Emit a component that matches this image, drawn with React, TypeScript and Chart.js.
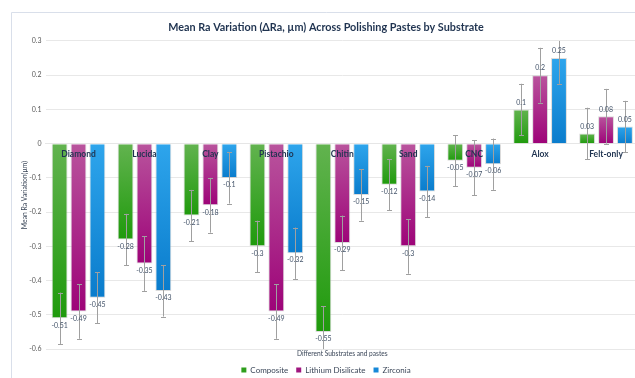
import React, { useEffect, useRef } from "react";
import { Chart, registerables } from "chart.js";

Chart.register(...registerables);

// Polishing pastes (x categories)
const categories = ["Diamond", "Lucida", "Clay", "Pistachio", "Chitin", "Sand", "CNC", "Alox", "Felt-only"];

// Mean ΔRa (µm) per substrate
const composite = [-0.51, -0.28, -0.21, -0.3, -0.55, -0.12, -0.05, 0.1, 0.03];
const lithiumDisilicate = [-0.49, -0.35, -0.18, -0.49, -0.29, -0.3, -0.07, 0.2, 0.08];
const zirconia = [-0.45, -0.43, -0.1, -0.32, -0.15, -0.14, -0.06, 0.25, 0.05];

// Error bar half-widths (µm)
const compositeErr = [0.075, 0.075, 0.075, 0.075, 0.075, 0.075, 0.075, 0.075, 0.075];
const lithiumDisilicateErr = [0.08, 0.08, 0.08, 0.08, 0.08, 0.08, 0.08, 0.08, 0.08];
const zirconiaErr = [0.075, 0.075, 0.075, 0.075, 0.075, 0.075, 0.075, 0.075, 0.075];

const seriesNames = ["Composite", "Lithium Disilicate", "Zirconia"];
const yMin = -0.6;
const yMax = 0.3;
const yStep = 0.1;

const FONT = "Lato, 'Open Sans', sans-serif";

const palette = [
  { light: "#62b34f", dark: "#1f9a0c", solid: "#2e9e1c" },
  { light: "#b9549d", dark: "#9d0378", solid: "#a0167f" },
  { light: "#2ea5ec", dark: "#0a7ccc", solid: "#1788d8" },
];

function barGradient(light: string, dark: string) {
  return (ctx: any) => {
    const chart = ctx.chart;
    const y = chart.scales && chart.scales.y;
    if (ctx.type !== "data" || !y || !chart.chartArea) return dark;
    const v = ctx.raw as number;
    const p0 = y.getPixelForValue(0);
    const p1 = y.getPixelForValue(v);
    const top = Math.min(p0, p1);
    const bot = Math.max(p0, p1);
    if (bot - top < 1) return dark;
    const g = chart.ctx.createLinearGradient(0, top, 0, bot);
    g.addColorStop(0, light);
    g.addColorStop(1, dark);
    return g;
  };
}

const errors = [compositeErr, lithiumDisilicateErr, zirconiaErr];

const framePlugin = {
  id: "frame",
  beforeDraw(chart: any) {
    const { ctx, width, height } = chart;
    ctx.save();
    ctx.fillStyle = "#ffffff";
    ctx.fillRect(0, 0, width, height);
    ctx.strokeStyle = "#d9dfea";
    ctx.lineWidth = 1;
    ctx.beginPath();
    ctx.moveTo(11.5, height);
    ctx.lineTo(11.5, 12.5);
    ctx.lineTo(width, 12.5);
    ctx.stroke();
    ctx.restore();
  },
};

const errorBarPlugin = {
  id: "errorBars",
  afterDatasetsDraw(chart: any) {
    const { ctx, chartArea } = chart;
    const yScale = chart.scales.y;
    ctx.save();
    ctx.strokeStyle = "#a0a0a0";
    ctx.lineWidth = 1;
    chart.data.datasets.forEach((ds: any, i: number) => {
      const meta = chart.getDatasetMeta(i);
      meta.data.forEach((bar: any, j: number) => {
        const v = ds.data[j] as number;
        const e = errors[i][j];
        const x = Math.round(bar.x) + 0.5;
        const hiRaw = yScale.getPixelForValue(v + e);
        const loRaw = yScale.getPixelForValue(v - e);
        const hi = Math.max(hiRaw, chartArea.top);
        const lo = Math.min(loRaw, chartArea.bottom);
        ctx.beginPath();
        ctx.moveTo(x, hi);
        ctx.lineTo(x, lo);
        if (hiRaw >= chartArea.top) {
          ctx.moveTo(x - 2.5, Math.round(hi) + 0.5);
          ctx.lineTo(x + 2.5, Math.round(hi) + 0.5);
        }
        if (loRaw <= chartArea.bottom) {
          ctx.moveTo(x - 2.5, Math.round(lo) + 0.5);
          ctx.lineTo(x + 2.5, Math.round(lo) + 0.5);
        }
        ctx.stroke();
      });
    });
    // value labels
    ctx.fillStyle = "#44546a";
    ctx.font = `7px ${FONT}`;
    ctx.textAlign = "center";
    ctx.textBaseline = "middle";
    chart.data.datasets.forEach((ds: any, i: number) => {
      const meta = chart.getDatasetMeta(i);
      meta.data.forEach((bar: any, j: number) => {
        const v = ds.data[j] as number;
        const y = v < 0 ? bar.y + 7 : bar.y - 7;
        ctx.fillText(String(v), bar.x, y);
      });
    });
    ctx.restore();
  },
};

export default function App() {
  const canvasRef = useRef<HTMLCanvasElement | null>(null);

  useEffect(() => {
    if (!canvasRef.current) return;
    const values = [composite, lithiumDisilicate, zirconia];
    const chart = new Chart(canvasRef.current, {
      type: "bar",
      data: {
        labels: categories,
        datasets: values.map((d, i) => ({
          label: seriesNames[i],
          data: d,
          xAxisID: "x",
          yAxisID: "y",
          backgroundColor: barGradient(palette[i].light, palette[i].dark),
          borderColor: "rgba(190,190,190,0.55)",
          borderWidth: 1,
          categoryPercentage: 0.86,
          barPercentage: 0.84,
        })),
      },
      options: {
        animation: false,
        responsive: false,
        devicePixelRatio: 1,
        layout: { padding: { top: 12, left: 13, right: 3, bottom: 0 } },
        plugins: {
          tooltip: { enabled: false },
          title: {
            display: true,
            text: "Mean Ra Variation (ΔRa, µm) Across Polishing Pastes by Substrate",
            color: "#1f3350",
            font: { family: FONT, size: 10.8, weight: "bold" },
            padding: { top: 9, bottom: 7 },
          },
          legend: {
            position: "bottom",
            labels: {
              boxWidth: 5,
              boxHeight: 5,
              padding: 8,
              color: "#3a4658",
              font: { family: FONT, size: 8 },
              generateLabels: (c: any) =>
                seriesNames.map((name, i) => ({
                  text: name,
                  fillStyle: palette[i].solid,
                  strokeStyle: palette[i].solid,
                  lineWidth: 0,
                  hidden: !c.isDatasetVisible(i),
                  datasetIndex: i,
                  fontColor: "#3a4658",
                })),
            },
          },
        },
        scales: {
          x: {
            type: "category",
            position: { y: 0 } as any,
            grid: { display: false, drawTicks: false },
            border: { display: true, color: "#e6e6e6" },
            ticks: {
              z: 1,
              color: "#1f3350",
              font: { family: FONT, size: 8.5, weight: "bold" },
              padding: 5,
              maxRotation: 0,
              autoSkip: false,
            },
          },
          x2: {
            type: "category",
            position: "bottom",
            grid: { display: false, drawTicks: false },
            border: { display: false },
            ticks: { display: false },
            title: {
              display: true,
              text: "Different Substrates and pastes",
              color: "#3a4658",
              font: { family: FONT, size: 6.6 },
              padding: { top: 1, bottom: 0 },
            },
          },
          y: {
            min: yMin,
            max: yMax,
            grid: { color: "#e8e8e8", drawTicks: false },
            border: { display: false },
            ticks: {
              stepSize: yStep,
              color: "#595959",
              font: { family: FONT, size: 7 },
              padding: 4,
              callback: (v: any) => String(Number(Number(v).toFixed(1))),
            },
            title: {
              display: true,
              text: "Mean Ra Variation(µm)",
              color: "#3a4658",
              font: { family: FONT, size: 6.8 },
              padding: { top: 8, bottom: -4 },
            },
          },
        },
      },
      plugins: [framePlugin, errorBarPlugin],
    });
    return () => chart.destroy();
  }, []);

  return (
    <div
      style={{
        position: "fixed",
        left: 0,
        top: 0,
        width: 635,
        height: 378,
        overflow: "hidden",
        background: "#fff",
      }}
    >
      <canvas ref={canvasRef} width={642} height={384} style={{ display: "block" }} />
    </div>
  );
}
